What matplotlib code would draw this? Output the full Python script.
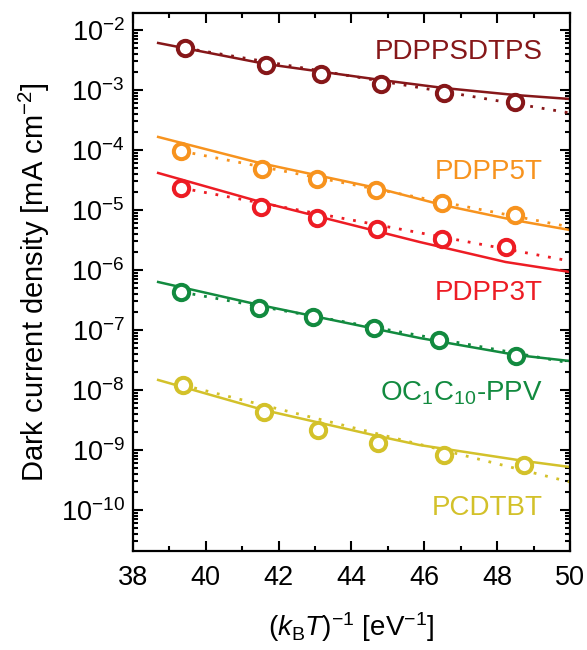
import numpy as np
import matplotlib
matplotlib.use("Agg")
import matplotlib.pyplot as plt
from matplotlib.ticker import FixedLocator, MultipleLocator, NullFormatter, LogFormatterSciNotation

plt.rcParams['font.family'] = ['Liberation Sans', 'DejaVu Sans']
plt.rcParams['mathtext.fontset'] = 'custom'
plt.rcParams['mathtext.rm'] = 'Liberation Sans'
plt.rcParams['mathtext.it'] = 'Liberation Sans:italic'
plt.rcParams['mathtext.bf'] = 'Liberation Sans:bold'

# ---- data ----
names = ['PDPPSDTPS', 'PDPP5T', 'PDPP3T', 'OC$_1$C$_{10}$-PPV', 'PCDTBT']
colors = ['#861719', '#F7931E', '#ED1C24', '#128A3F', '#D3C12A']

# measured points: x = (kBT)^-1 [eV^-1], y = dark current density [mA cm^-2]
x_pts = [
    [39.43, 41.65, 43.16, 44.80, 46.53, 48.48],
    [39.32, 41.54, 43.05, 44.67, 46.48, 48.48],
    [39.32, 41.51, 43.05, 44.69, 46.48, 48.23],
    [39.32, 41.46, 42.94, 44.61, 46.40, 48.53],
    [39.37, 41.59, 43.08, 44.72, 46.53, 48.75],
]
y_pts = [
    [5.0e-3, 2.6e-3, 1.85e-3, 1.26e-3, 8.9e-4, 6.3e-4],
    [9.6e-5, 4.8e-5, 3.3e-5, 2.15e-5, 1.3e-5, 8.3e-6],
    [2.33e-5, 1.12e-5, 7.4e-6, 4.8e-6, 3.3e-6, 2.4e-6],
    [4.3e-7, 2.3e-7, 1.65e-7, 1.08e-7, 6.8e-8, 3.7e-8],
    [1.21e-8, 4.3e-9, 2.15e-9, 1.3e-9, 8.3e-10, 5.6e-10],
]

# solid model curves
fit_x = [
    [38.69, 41.65, 44.80, 46.53, 48.48, 50.0],
    [38.69, 41.48, 44.69, 46.50, 48.45, 50.0],
    [38.69, 41.51, 45.87, 48.23, 50.0],
    [38.69, 41.48, 45.87, 48.53, 50.0],
    [38.69, 41.59, 44.72, 45.87, 48.75, 50.0],
]
fit_y = [
    [6.07e-3, 2.71e-3, 1.47e-3, 1.08e-3, 8.26e-4, 7.08e-4],
    [1.65e-4, 6.07e-5, 2.33e-5, 1.21e-5, 6.81e-6, 4.64e-6],
    [4.14e-5, 1.36e-5, 2.93e-6, 1.36e-6, 9.27e-7],
    [6.31e-7, 2.61e-7, 7.36e-8, 3.83e-8, 3.04e-8],
    [1.47e-8, 4.64e-9, 1.71e-9, 1.21e-9, 6.56e-10, 5.21e-10],
]

# dotted Arrhenius lines: start at first point, end at right edge
dot_x_end = 50.0
dot_y_end = [4.14e-4, 5.21e-6, 1.41e-6, 2.82e-8, 2.93e-10]

label_x = 49.26
label_y = [4.3e-3, 4.3e-5, 4.14e-7, 8.9e-9, 1.08e-10]

y_major = [1e-10, 1e-9, 1e-8, 1e-7, 1e-6, 1e-5, 1e-4, 1e-3, 1e-2]

# ---- figure ----
fig = plt.figure(figsize=(5.87, 6.5), dpi=100)
ax = fig.add_axes([0.2266, 0.1523, 0.7444, 0.8277])

for i in range(len(names)):
    c = colors[i]
    ax.plot(fit_x[i], fit_y[i], '-', color=c, lw=1.8, zorder=2)
    ax.plot([x_pts[i][0], dot_x_end], [y_pts[i][0], dot_y_end[i]],
            color=c, lw=2.0, dashes=(1, 3.2), zorder=2)
    ax.plot(x_pts[i], y_pts[i], 'o', ms=11, mew=2.9, mfc='white',
            mec=c, zorder=3)
    ax.text(label_x, label_y[i], names[i], color=c, fontsize=20,
            ha='right', va='center')

ax.set_yscale('log')
ax.set_xlim(38, 50)
ax.set_ylim(10 ** -10.683, 10 ** -1.717)
ax.xaxis.set_major_locator(MultipleLocator(2))
ax.xaxis.set_minor_locator(MultipleLocator(1))
ax.yaxis.set_major_locator(FixedLocator(y_major))
ax.yaxis.set_major_formatter(LogFormatterSciNotation())
minors = [m * d for d in [1e-11] + y_major for m in range(2, 10)]
minors = [v for v in minors if 10 ** -10.683 <= v <= 10 ** -1.717]
ax.yaxis.set_minor_locator(FixedLocator(minors))
ax.yaxis.set_minor_formatter(NullFormatter())

ax.tick_params(which='both', direction='in', top=True, right=True,
               width=1.5, labelsize=19.5, colors='black')
ax.tick_params(which='major', length=7.5)
ax.tick_params(which='minor', length=3.5)
ax.tick_params(axis='x', pad=10)
ax.tick_params(axis='y', pad=6)
for s in ax.spines.values():
    s.set_linewidth(1.6)

ax.set_ylabel('Dark current density [mA cm$^{-2}$]', fontsize=21, labelpad=6)
ax.set_xlabel('$(k_{\\mathrm{B}}T)^{-1}$ [eV$^{-1}$]', fontsize=20, labelpad=14)

fig.savefig('out.png', dpi=100)
